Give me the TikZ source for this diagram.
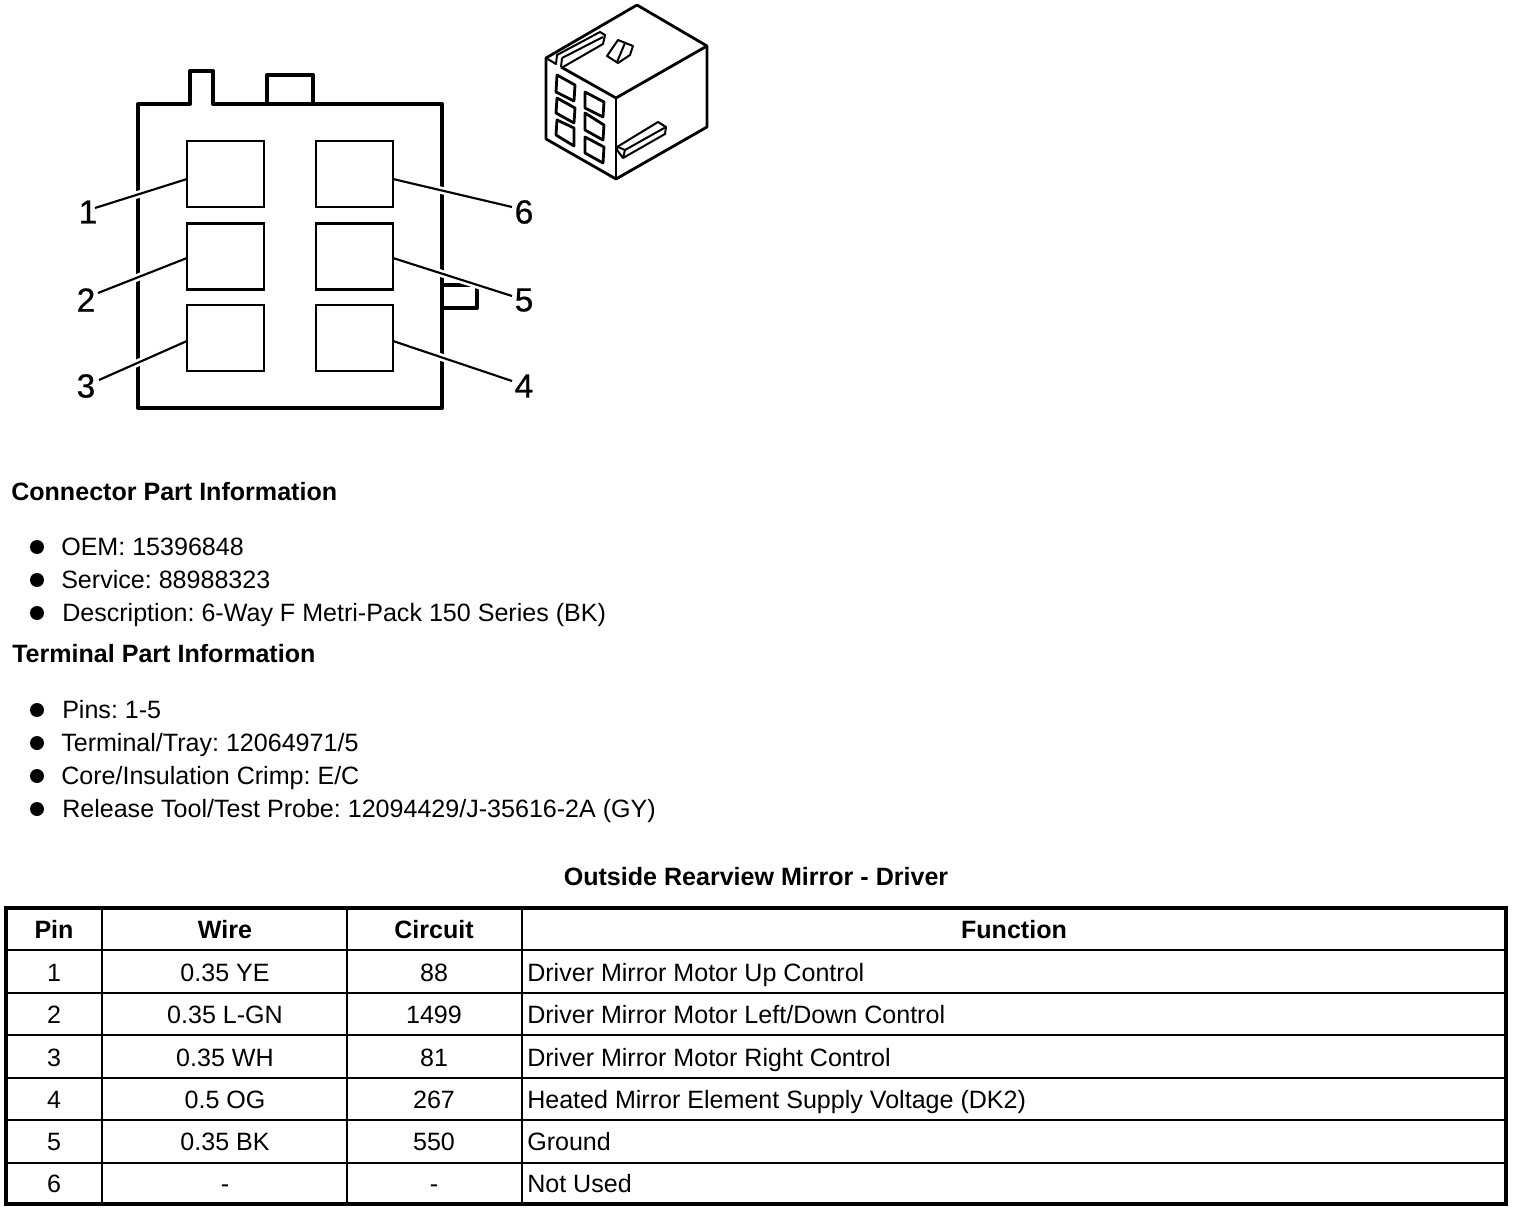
\documentclass[tikz,border=0pt]{standalone}
\usepackage{fontspec}
\setmainfont{Liberation Sans}
\newfontfamily\pinfont[FakeBold=0.7]{Liberation Sans}
\frenchspacing
\newcommand{\bodyfs}{\fontsize{18.8}{21}\selectfont}
\newcommand{\pinfs}{\pinfont\fontsize{25}{28}\selectfont}
\tikzset{
  body/.style={line width=3pt,line join=round},
  pinbox/.style={draw,line width=1.9pt,rectangle,inner sep=0pt,minimum width=57.5pt,minimum height=49.5pt},
  leader/.style={line width=1.6pt},
  halo/.style={white,line width=5.5pt},
  iso/.style={line width=2.1pt,line join=round},
  isofine/.style={line width=1.5pt,line join=round},
  pinlabel/.style={font=\pinfs,inner sep=0pt,anchor=center},
  txt/.style={font=\bodyfs,inner sep=0pt,anchor=base west},
  head/.style={font=\bodyfs\bfseries,inner sep=0pt,anchor=base west},
  ctr/.style={font=\bodyfs,inner sep=0pt,anchor=base},
  ctrb/.style={font=\bodyfs\bfseries,inner sep=0pt,anchor=base},
  dot/.style={circle,fill=black,inner sep=0pt,minimum size=10.5pt},
  thin rule/.style={line width=1pt},
  mid rule/.style={line width=1.6pt},
  outer rule/.style={line width=3pt}
}
\begin{document}
\begin{tikzpicture}[x=0.75pt,y=-0.75pt]
\useasboundingbox (0,0) rectangle (1520,1212);
\fill[white] (0,0) rectangle (1520,1212);
% connector face
\draw[body] (138,408) -- (138,104) -- (190,104) -- (190,71) -- (213,71) -- (213,104) -- (442,104) -- (442,408) -- cycle;
\draw[body] (267,104) -- (267,75) -- (313,75) -- (313,104);
\draw[body] (442,285) -- (477,285) -- (477,308) -- (442,308);
% pin cavities
\node[pinbox] (p1) at (225.5,174) {};
\node[pinbox] (p2) at (225.5,256.5) {};
\node[pinbox] (p3) at (225.5,338) {};
\node[pinbox] (p6) at (354.5,174) {};
\node[pinbox] (p5) at (354.5,256.5) {};
\node[pinbox] (p4) at (354.5,338) {};
% pin labels
\node[pinlabel] (l1) at (88,212) {1};
\node[pinlabel] (l2) at (86,300) {2};
\node[pinlabel] (l3) at (86,386) {3};
\node[pinlabel] (l6) at (524,212) {6};
\node[pinlabel] (l5) at (524,300) {5};
\node[pinlabel] (l4) at (524,386) {4};
\coordinate (e1) at (95,208);
\coordinate (e2) at (98,293);
\coordinate (e3) at (99,380);
\coordinate (e6) at (512,207);
\coordinate (e5) at (512,296);
\coordinate (e4) at (512,381);
\coordinate (s1) at (187,179);
\coordinate (s2) at (187,258);
\coordinate (s3) at (187,341);
\coordinate (s6) at (393,179);
\coordinate (s5) at (393,258);
\coordinate (s4) at (393,341);
\foreach \n in {1,...,6}{
  \path (s\n) -- (e\n) coordinate[pos=0.25] (h\n a) coordinate[pos=0.75] (h\n b);
}
\foreach \n in {1,2,3,4,5,6}{
  \draw[halo] (h\n a) -- (h\n b);
  \draw[leader] (s\n) -- (e\n);
}
% isometric view
\begin{scope}[iso]
\draw (546,58) -- (546,139) -- (616,179) -- (707,127) -- (707,46) -- (637,5) -- cycle;
\draw (616,98) -- (616,179);
\draw (616,98) -- (707,46);
\draw (561,67) -- (616,98);
\draw (557,75) -- (575,85) -- (574,101) -- (556,92) -- cycle;
\draw (557,98) -- (575,108) -- (574,123) -- (556,113) -- cycle;
\draw (557,120) -- (574,128) -- (574,146) -- (556,135) -- cycle;
\draw (585,92) -- (604,102) -- (603,117) -- (585,108) -- cycle;
\draw (585,113) -- (604,125) -- (603,140) -- (585,130) -- cycle;
\draw (585,137) -- (604,147) -- (603,163) -- (585,153) -- cycle;
\end{scope}
\begin{scope}[isofine]
\draw (546,58) -- (556,64) -- (557,55) -- (600,32) -- (605,35) -- (603,44) -- (563,67);
\draw (562,58) -- (603,37);
\draw (562,58) -- (561,67);
\draw (607,56) -- (618,40) -- (633,46) -- (630,55) -- (618,63) -- cycle;
\draw (625,43) -- (617,62);
\draw (617,147) -- (658,122) -- (666,127) -- (665,134) -- (623,158) -- (617,150) -- cycle;
\draw (618,147) -- (625,150) -- (666,127);
\draw (625,150) -- (623,158);
\end{scope}
% information text
\node[head] (h1) at (11,500) {Connector Part Information};
\node[dot] (b1) at (37,547) {}; \node[txt] (t1) at (61,555) {OEM: 15396848};
\node[dot] (b2) at (37,580) {}; \node[txt] (t2) at (61,588) {Service: 88988323};
\node[dot] (b3) at (37,613) {}; \node[txt] (t3) at (62,621) {Description: 6-Way F Metri-Pack 150 Series (BK)};
\node[head] (h2) at (12,662) {Terminal Part Information};
\node[dot] (b4) at (37,710) {}; \node[txt] (t4) at (62,718) {Pins: 1-5};
\node[dot] (b5) at (37,743) {}; \node[txt] (t5) at (61,751) {Terminal/Tray: 12064971/5};
\node[dot] (b6) at (37,776) {}; \node[txt] (t6) at (61,784) {Core/Insulation Crimp: E/C};
\node[dot] (b7) at (37,809) {}; \node[txt] (t7) at (62,817) {Release Tool/Test Probe: 12094429/J-35616-2A (GY)};
\node[ctrb] (title) at (756,885) {Outside Rearview Mirror - Driver};
% table
\draw[mid rule] (6,950) -- (1506,950);
\foreach \y in {993,1035,1078,1120,1163} \draw[thin rule] (6,\y) -- (1506,\y);
\foreach \x in {102,347,522} \draw[thin rule] (\x,908) -- (\x,1204);
\draw[outer rule] (6,908) rectangle (1506,1204);
\node[ctrb] (cp) at (54,938) {Pin};
\node[ctrb] (cw) at (225,938) {Wire};
\node[ctrb] (cc) at (434,938) {Circuit};
\node[ctrb] (cf) at (1014,938) {Function};
\foreach \y/\p/\w/\c/\f in {
 981/1/0.35 YE/88/Driver Mirror Motor Up Control,
 1023/2/0.35 L-GN/1499/Driver Mirror Motor Left\slash Down Control,
 1066/3/0.35 WH/81/Driver Mirror Motor Right Control,
 1108/4/0.5 OG/267/Heated Mirror Element Supply Voltage (DK2),
 1150/5/0.35 BK/550/Ground,
 1192/6/-/-/Not Used}{
  \node[ctr] at (54,\y) {\p};
  \node[ctr] at (225,\y) {\w};
  \node[ctr] at (434,\y) {\c};
  \node[txt] at (527,\y) {\f};
}
\end{tikzpicture}
\end{document}
